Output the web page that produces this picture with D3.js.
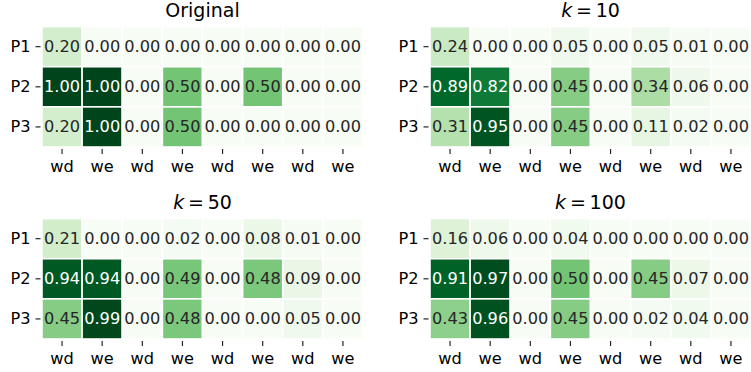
<!DOCTYPE html>
<html>
<head>
<meta charset="utf-8">
<script src="https://cdn.jsdelivr.net/npm/d3@7"></script>
<style>
  html, body { margin: 0; padding: 0; background: #fff; }
  svg { display: block; }
  text { font-family: "DejaVu Sans", sans-serif; }
</style>
</head>
<body>
<svg id="chart" width="751" height="372"></svg>
<script>
// Row and column labels
const rowLabels = ["P1", "P2", "P3"];
const colLabels = ["wd", "we", "wd", "we", "wd", "we", "wd", "we"];

// Panel titles
const titles = ["Original", "k=10", "k=50", "k=100"];

// Cell values per panel (rows P1..P3, 8 columns each)
const original = [
  [0.20, 0.00, 0.00, 0.00, 0.00, 0.00, 0.00, 0.00],
  [1.00, 1.00, 0.00, 0.50, 0.00, 0.50, 0.00, 0.00],
  [0.20, 1.00, 0.00, 0.50, 0.00, 0.00, 0.00, 0.00]
];
const k10 = [
  [0.24, 0.00, 0.00, 0.05, 0.00, 0.05, 0.01, 0.00],
  [0.89, 0.82, 0.00, 0.45, 0.00, 0.34, 0.06, 0.00],
  [0.31, 0.95, 0.00, 0.45, 0.00, 0.11, 0.02, 0.00]
];
const k50 = [
  [0.21, 0.00, 0.00, 0.02, 0.00, 0.08, 0.01, 0.00],
  [0.94, 0.94, 0.00, 0.49, 0.00, 0.48, 0.09, 0.00],
  [0.45, 0.99, 0.00, 0.48, 0.00, 0.00, 0.05, 0.00]
];
const k100 = [
  [0.16, 0.06, 0.00, 0.04, 0.00, 0.00, 0.00, 0.00],
  [0.91, 0.97, 0.00, 0.50, 0.00, 0.45, 0.07, 0.00],
  [0.43, 0.96, 0.00, 0.45, 0.00, 0.02, 0.04, 0.00]
];
const panels = [original, k10, k50, k100];

// Greens colormap: linear interpolation through the 9 ColorBrewer stops
const greenStops = ["#f7fcf5", "#e5f5e0", "#c7e9c0", "#a1d99b", "#74c476",
                    "#41ab5d", "#238b45", "#006d2c", "#00441b"];
const color = d3.scaleLinear()
  .domain(d3.range(greenStops.length).map(i => i / (greenStops.length - 1)))
  .range(greenStops)
  .interpolate(d3.interpolateRgb)
  .clamp(true);

// Relative luminance for choosing annotation colour
function luminance(c) {
  const rgb = d3.rgb(c);
  const ch = [rgb.r, rgb.g, rgb.b].map(v => {
    v /= 255;
    return v <= 0.03928 ? v / 12.92 : Math.pow((v + 0.055) / 1.055, 2.4);
  });
  return 0.2126 * ch[0] + 0.7152 * ch[1] + 0.0722 * ch[2];
}

const svg = d3.select("#chart");
const W = 321, H = 120.4;
const origins = [[42, 26.6], [430, 26.6], [42, 218.6], [430, 218.6]];
const fontSize = 16.2;

panels.forEach((data, p) => {
  const [ox, oy] = origins[p];
  const g = svg.append("g").attr("transform", `translate(${ox},${oy})`);

  const x = d3.scaleBand().domain(d3.range(colLabels.length)).range([0, W]).padding(0);
  const y = d3.scaleBand().domain(d3.range(rowLabels.length)).range([0, H]).padding(0);

  const cells = [];
  data.forEach((row, r) => row.forEach((v, c) => cells.push({ r, c, v })));

  g.selectAll("rect.cell").data(cells).enter().append("rect")
    .attr("class", "cell")
    .attr("x", d => x(d.c))
    .attr("y", d => y(d.r))
    .attr("width", x.bandwidth())
    .attr("height", y.bandwidth())
    .attr("fill", d => color(d.v))
    .attr("stroke", "#ffffff")
    .attr("stroke-width", 1.6);

  g.selectAll("text.annot").data(cells).enter().append("text")
    .attr("class", "annot")
    .attr("x", d => x(d.c) + x.bandwidth() / 2)
    .attr("y", d => y(d.r) + y.bandwidth() / 2)
    .attr("text-anchor", "middle")
    .attr("dominant-baseline", "central")
    .attr("font-size", fontSize)
    .attr("fill", d => luminance(color(d.v)) > 0.408 ? "#262626" : "#ffffff")
    .text(d => d3.format(".2f")(d.v));

  // x axis
  const xAxis = d3.axisBottom(x)
    .tickFormat(i => colLabels[i])
    .tickSizeInner(5)
    .tickSizeOuter(0)
    .tickPadding(6.5);
  const xg = g.append("g").attr("transform", `translate(0,${H + 2})`).call(xAxis);
  xg.select(".domain").remove();
  xg.selectAll(".tick line").attr("stroke", "#262626").attr("stroke-width", 1.2);
  xg.selectAll(".tick text")
    .attr("font-family", "DejaVu Sans")
    .attr("font-size", fontSize)
    .attr("fill", "#000");

  // y axis
  const yAxis = d3.axisLeft(y)
    .tickFormat(i => rowLabels[i])
    .tickSizeInner(5)
    .tickSizeOuter(0)
    .tickPadding(5);
  const yg = g.append("g").attr("transform", `translate(-1.5,0)`).call(yAxis);
  yg.select(".domain").remove();
  yg.selectAll(".tick line").attr("stroke", "#262626").attr("stroke-width", 1.2);
  yg.selectAll(".tick text")
    .attr("font-family", "DejaVu Sans")
    .attr("font-size", fontSize)
    .attr("fill", "#000");

  // title
  const t = g.append("text")
    .attr("x", W / 2)
    .attr("y", -9.3)
    .attr("text-anchor", "middle")
    .attr("font-size", 19)
    .attr("fill", "#000");
  const title = titles[p];
  if (title.startsWith("k=")) {
    t.append("tspan").attr("font-style", "italic").text("k");
    t.append("tspan").text("\u2009=\u2009" + title.slice(2));
  } else {
    t.text(title);
  }
});
</script>
</body>
</html>
